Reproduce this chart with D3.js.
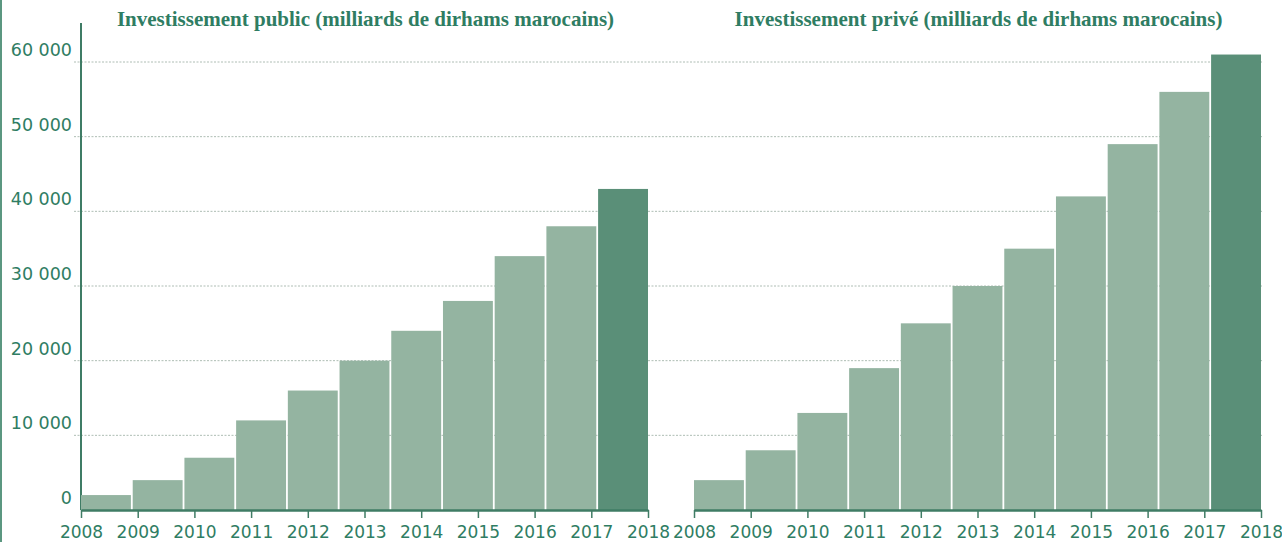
<!DOCTYPE html>
<html lang="fr">
<head>
<meta charset="utf-8">
<script src="https://cdn.jsdelivr.net/npm/d3@7"></script>
<style>
  html, body { margin: 0; padding: 0; background: #ffffff; }
  svg { display: block; }
</style>
</head>
<body>
<svg id="chart" width="1282" height="542"></svg>
<script>
// Années couvertes par les deux graphiques
const years = [2008, 2009, 2010, 2011, 2012, 2013, 2014, 2015, 2016, 2017, 2018];
// Investissement public
const publicValues = [2000, 4000, 7000, 12000, 16000, 20000, 24000, 28000, 34000, 38000, 43000];
// Investissement privé
const priveValues = [4000, 8000, 13000, 19000, 25000, 30000, 35000, 42000, 49000, 56000, 61000];
// Graduations de l'axe vertical
const yTicks = [0, 10000, 20000, 30000, 40000, 50000, 60000];
const titles = [
  "Investissement public (milliards de dirhams marocains)",
  "Investissement privé (milliards de dirhams marocains)"
];

const TEXT = "#2f7d63";
const AXIS = "#3f7c65";
const LIGHT = "#94b4a1";
const DARK = "#5a8f78";
const GRID = "#aebdb4";

const svg = d3.select("#chart");

const y = d3.scaleLinear().domain([0, 60000]).range([510, 62]);
const fmt = v => d3.format(",")(v).replace(/,/g, " ");

// bordure gauche
svg.append("rect").attr("x", 0).attr("y", 0).attr("width", 2).attr("height", 542)
  .attr("fill", "#5b9780");

// lignes de grille (communes aux deux panneaux)
svg.append("g").selectAll("line")
  .data(yTicks.filter(d => d > 0))
  .join("line")
  .attr("x1", 74).attr("x2", 1262)
  .attr("y1", d => y(d)).attr("y2", d => y(d))
  .attr("stroke", GRID).attr("stroke-width", 1)
  .attr("stroke-dasharray", "2,1.5");

// étiquettes de l'axe vertical
svg.append("g").selectAll("text")
  .data(yTicks)
  .join("text")
  .attr("x", 72)
  .attr("y", d => y(d) - 12)
  .attr("dy", "0.35em")
  .attr("text-anchor", "end")
  .attr("fill", TEXT)
  .attr("font-family", "DejaVu Sans, sans-serif")
  .attr("font-size", 17.5)
  .text(fmt);

// axe vertical
svg.append("line").attr("x1", 81).attr("x2", 81).attr("y1", 23).attr("y2", 510)
  .attr("stroke", AXIS).attr("stroke-width", 2);

const panels = [
  { x0: 81, values: publicValues, title: titles[0] },
  { x0: 694, values: priveValues, title: titles[1] }
];
const W = 567;

panels.forEach(p => {
  const xb = d3.scaleBand().domain(years).range([p.x0, p.x0 + W]).paddingInner(0.035).paddingOuter(0);
  const xt = d3.scaleLinear().domain([2008, 2018]).range([p.x0, p.x0 + W]);
  const g = svg.append("g");

  g.selectAll("rect")
    .data(years.map((yr, i) => ({ yr, v: p.values[i], last: i === years.length - 1 })))
    .join("rect")
    .attr("x", d => xb(d.yr))
    .attr("width", xb.bandwidth())
    .attr("y", d => y(d.v))
    .attr("height", d => y(0) - y(d.v))
    .attr("fill", d => d.last ? DARK : LIGHT);

  const axis = d3.axisBottom(xt)
    .tickValues(years)
    .tickFormat(d3.format("d"))
    .tickSizeInner(8)
    .tickSizeOuter(0)
    .tickPadding(8);

  const ax = g.append("g").attr("transform", `translate(0,${y(0)})`).call(axis);
  ax.select(".domain").attr("stroke", AXIS).attr("stroke-width", 2.5);
  ax.selectAll(".tick line").attr("stroke", AXIS).attr("stroke-width", 1.5);
  ax.selectAll(".tick text")
    .attr("fill", TEXT)
    .attr("font-family", "DejaVu Sans, sans-serif")
    .attr("font-size", 17);

  g.append("text")
    .attr("x", p.x0 + W / 2 + 1)
    .attr("y", 26)
    .attr("text-anchor", "middle")
    .attr("fill", TEXT)
    .attr("font-family", "Liberation Serif, serif")
    .attr("font-weight", "bold")
    .attr("font-size", 21)
    .text(p.title);
});
</script>
</body>
</html>
